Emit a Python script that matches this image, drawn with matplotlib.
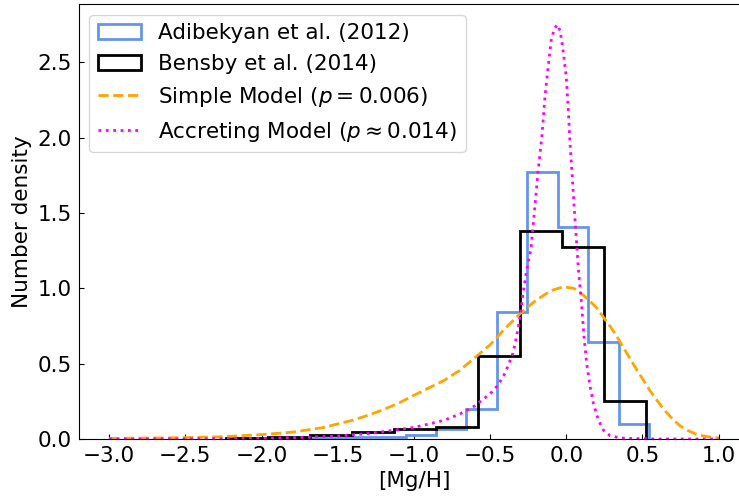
import numpy as np
import matplotlib
matplotlib.use("Agg")
import matplotlib.pyplot as plt

# ── histogram data (number density) ───────────────────────────────────────────
adibekyan_edges = [-1.855, -1.655, -1.455, -1.255, -1.055, -0.855, -0.655,
                   -0.455, -0.255, -0.055, 0.145, 0.345, 0.545]
adibekyan_dens = [0.005, 0.005, 0.011, 0.011, 0.027, 0.064, 0.197,
                  0.846, 1.771, 1.405, 0.647, 0.098]

bensby_edges = [-2.234, -1.958, -1.682, -1.407, -1.131, -0.855, -0.580,
                -0.304, -0.028, 0.247, 0.523]
bensby_dens = [0.008, 0.015, 0.027, 0.049, 0.066, 0.082, 0.552,
               1.383, 1.272, 0.255]

# ── model curves ──────────────────────────────────────────────────────────────
simple_x = [-3.0, -2.75, -2.5, -2.25, -2.0, -1.8, -1.6, -1.5, -1.4, -1.3,
            -1.2, -1.1, -1.0, -0.9, -0.8, -0.7, -0.6, -0.5, -0.4, -0.3,
            -0.2, -0.1, -0.02, 0.05, 0.1, 0.15, 0.2, 0.25, 0.3, 0.35,
            0.4, 0.45, 0.5, 0.55, 0.6, 0.65, 0.7, 0.75, 0.8, 0.85,
            0.9, 0.95, 1.0]
simple_y = [0.004, 0.006, 0.009, 0.015, 0.029, 0.045, 0.075, 0.10, 0.125, 0.158,
            0.195, 0.238, 0.29, 0.34, 0.39, 0.455, 0.54, 0.625, 0.735, 0.835,
            0.92, 0.985, 1.01, 1.0, 0.965, 0.92, 0.87, 0.80, 0.73, 0.65,
            0.565, 0.48, 0.40, 0.32, 0.25, 0.185, 0.13, 0.085, 0.055, 0.033,
            0.02, 0.012, 0.007]

accreting_x = [-3.0, -2.5, -2.0, -1.75, -1.5, -1.3, -1.1, -1.0, -0.9, -0.8,
               -0.7, -0.6, -0.5, -0.45, -0.4, -0.35, -0.326, -0.304, -0.28, -0.26,
               -0.232, -0.206, -0.184, -0.16, -0.14, -0.12, -0.1, -0.08, -0.06, -0.04,
               -0.02, 0.0, 0.013, 0.024, 0.039, 0.053, 0.068, 0.079, 0.1, 0.116,
               0.134, 0.156, 0.177, 0.21, 0.243, 0.287, 0.35, 0.4, 0.6, 1.0]
accreting_y = [0.0, 0.001, 0.004, 0.01, 0.02, 0.036, 0.062, 0.077, 0.10, 0.125,
               0.165, 0.22, 0.30, 0.355, 0.44, 0.57, 0.68, 0.81, 0.99, 1.12,
               1.26, 1.545, 1.79, 2.01, 2.27, 2.46, 2.64, 2.72, 2.75, 2.71,
               2.57, 2.40, 2.19, 1.97, 1.74, 1.52, 1.30, 1.13, 0.90, 0.68,
               0.50, 0.35, 0.24, 0.126, 0.06, 0.022, 0.008, 0.004, 0.0, 0.0]

# ── plot ──────────────────────────────────────────────────────────────────────
FS = 15.5
plt.rcParams["font.size"] = FS
fig = plt.figure(figsize=(7.39, 4.98), dpi=100)
ax = fig.add_axes([0.1065, 0.1185, 0.9072, 0.8735])

ax.hist(adibekyan_edges[:-1], bins=adibekyan_edges, weights=adibekyan_dens,
        histtype="step", color="cornflowerblue", linewidth=2,
        label="Adibekyan et al. (2012)")
ax.hist(bensby_edges[:-1], bins=bensby_edges, weights=bensby_dens,
        histtype="step", color="black", linewidth=2,
        label="Bensby et al. (2014)")
ax.plot(simple_x, simple_y, "--", color="orange", linewidth=2,
        label=r"Simple Model ($p = 0.006$)")
ax.plot(accreting_x, accreting_y, ":", color="magenta", linewidth=2,
        label=r"Accreting Model ($p \approx 0.014$)")

ax.set_xlim(-3.2, 1.2)
ax.set_ylim(0, 2.8875)
ax.set_xticks(np.arange(-3.0, 1.01, 0.5))
ax.set_yticks(np.arange(0, 2.51, 0.5))
ax.tick_params(direction="in", labelsize=FS, pad=5)
ax.set_xlabel("[Mg/H]", fontsize=FS)
ax.set_ylabel("Number density", fontsize=FS)
ax.legend(loc="upper left", fontsize=FS)

fig.savefig("out.png", dpi=100)
